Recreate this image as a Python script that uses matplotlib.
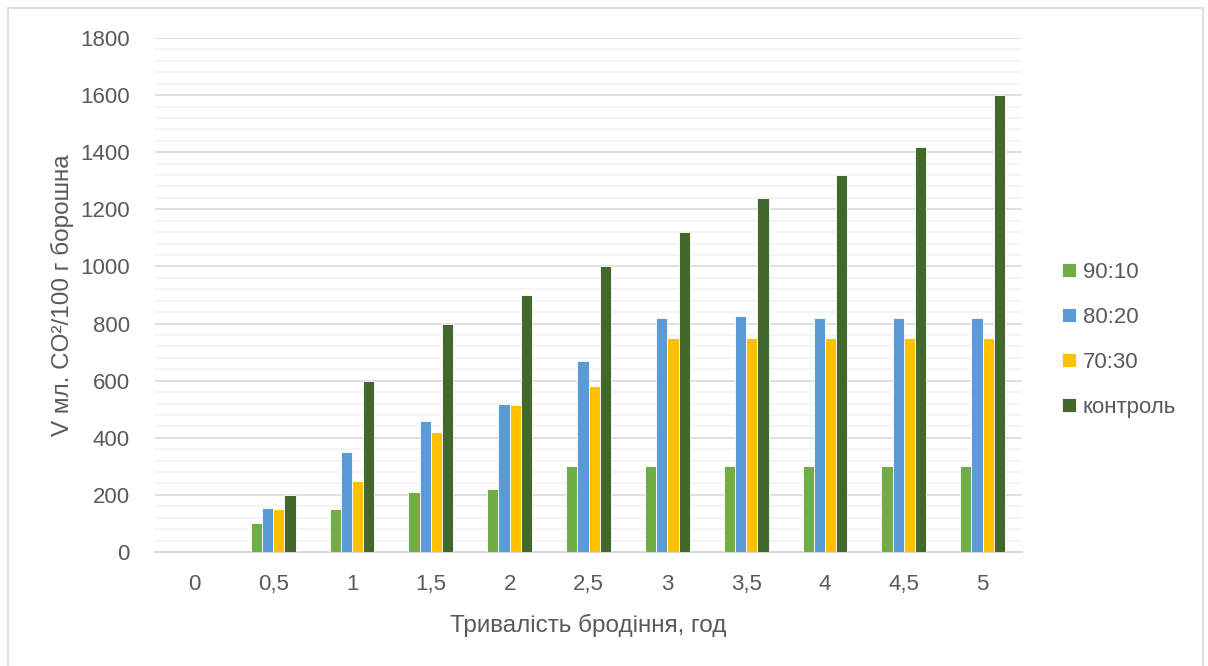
import matplotlib
matplotlib.use("Agg")
import matplotlib.pyplot as plt
import numpy as np
from matplotlib.patches import Rectangle
from matplotlib.ticker import MultipleLocator

categories = ["0", "0,5", "1", "1,5", "2", "2,5", "3", "3,5", "4", "4,5", "5"]
series_names = ["90:10", "80:20", "70:30", "контроль"]
s_90_10 = [0, 100, 150, 210, 220, 300, 300, 300, 300, 300, 300]
s_80_20 = [0, 155, 350, 460, 520, 670, 820, 825, 820, 820, 820]
s_70_30 = [0, 150, 250, 420, 515, 580, 750, 750, 750, 750, 750]
s_control = [0, 200, 600, 800, 900, 1000, 1120, 1240, 1320, 1420, 1600]
colors = ["#70AD47", "#5B9BD5", "#FFC000", "#43682B"]

plt.rcParams['font.family'] = ['Liberation Sans', 'DejaVu Sans']
txt = "#595959"

fig = plt.figure(figsize=(12.08, 6.66), dpi=100)
ax = fig.add_axes([155/1208, 1 - 552/666, (1022-155)/1208, (552-38)/666])

x = np.arange(len(categories))
w = 0.142
data = [s_90_10, s_80_20, s_70_30, s_control]
for i, (vals, c, name) in enumerate(zip(data, colors, series_names)):
    ax.bar(x + (i - 1.5) * w, vals, width=w, color=c, label=name,
           edgecolor="white", linewidth=0.6, zorder=3)

ax.set_xlim(-0.5, len(categories) - 0.5)
ax.set_ylim(0, 1800)
ax.yaxis.set_major_locator(MultipleLocator(200))
ax.yaxis.set_minor_locator(MultipleLocator(40))
ax.grid(which="major", axis="y", color="#D9D9D9", linewidth=1.2, zorder=0)
ax.grid(which="minor", axis="y", color="#F2F2F2", linewidth=1.2, zorder=0)
ax.set_xticks(x)
ax.set_xticklabels(categories)
for s in ["top", "right", "left"]:
    ax.spines[s].set_visible(False)
ax.spines["bottom"].set_color("#D9D9D9")
ax.spines["bottom"].set_linewidth(1.5)
ax.tick_params(axis="both", which="both", length=0, labelsize=16, labelcolor=txt)
ax.tick_params(axis="x", pad=16)
ax.tick_params(axis="y", pad=18)

ax.set_xlabel("Тривалість бродіння, год", fontsize=17.5, color=txt)
ax.xaxis.label.set_va("center")
ax.xaxis.set_label_coords(0.5, (552 - 625) / 514)
ax.set_ylabel("V мл. CO²/100 г борошна", fontsize=17.5, color=txt)
ax.yaxis.label.set_va("center")
ax.yaxis.set_label_coords((62 - 155) / 867, 0.5)

handles, labels = ax.get_legend_handles_labels()
leg = fig.legend(handles, labels, loc="center left",
                 bbox_to_anchor=(1062 / 1208, 1 - 340 / 666), frameon=False,
                 fontsize=16, labelcolor=txt, handlelength=0.63, handleheight=0.63,
                 labelspacing=1.08, handletextpad=0.3, borderpad=0, borderaxespad=0)

fig.patches.append(Rectangle((8/1208, -0.01), (1203-8)/1208, 1 - 8/666 + 0.01,
                             transform=fig.transFigure, fill=False,
                             edgecolor="#D9D9D9", linewidth=1.2))

fig.savefig("out.png", dpi=100)
